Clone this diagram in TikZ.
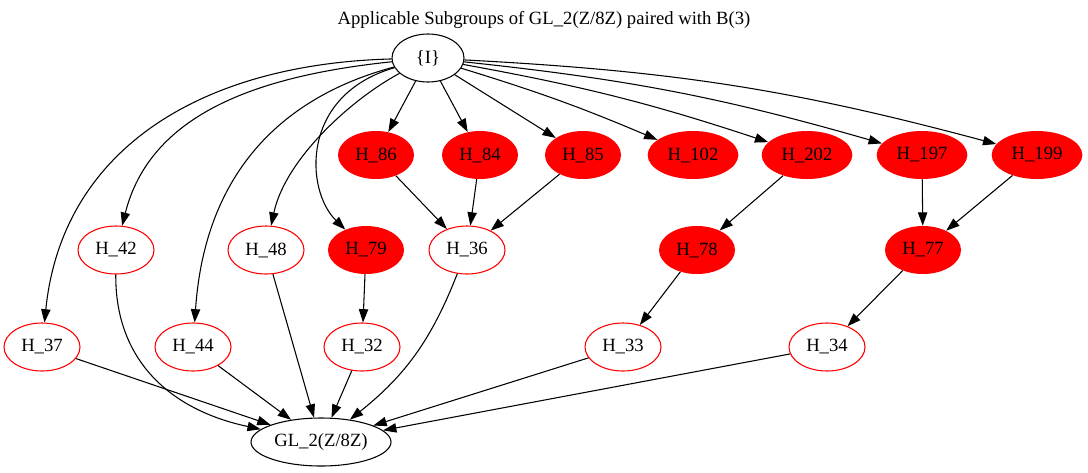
\documentclass[tikz,border=0pt]{standalone}
\usepackage{fontspec}
\setmainfont{Liberation Serif}
\usetikzlibrary{shapes.geometric,arrows.meta}
\definecolor{gvred}{RGB}{255,0,0}
\tikzset{
  base/.style={ellipse, inner sep=0pt, minimum height=36pt, font=\fontsize{14}{16}\selectfont, text=black},
  blacknode/.style={base, draw=black, line width=0.8pt},
  wnode/.style={base, draw=gvred, fill=white, line width=0.8pt, minimum width=57pt},
  rnode/.style={base, fill=gvred, minimum width=57pt},
  rwide/.style={base, fill=gvred, minimum width=68pt},
  edge/.style={draw=black, line width=0.8pt, -{Triangle[length=10pt,width=7pt]}},
}
\begin{document}
\begin{tikzpicture}[x=0.75pt,y=-0.75pt]
\useasboundingbox (0,0) rectangle (1088,472);
\node[font=\fontsize{14}{16}\selectfont] (title) at (544,20) {Applicable Subgroups of GL\_2(Z/8Z) paired with B(3)};
\node[blacknode, minimum width=54pt] (I) at (428,58) {\{I\}};
% row 2
\node[rnode] (H86) at (376,155) {H\_86};
\node[rnode] (H84) at (480,155) {H\_84};
\node[rnode] (H85) at (583,155) {H\_85};
\node[rwide] (H102) at (693,155) {H\_102};
\node[rwide] (H202) at (807,155) {H\_202};
\node[rwide] (H197) at (922,155) {H\_197};
\node[rwide] (H199) at (1037,155) {H\_199};
% row 3
\node[wnode] (H42) at (116,250) {H\_42};
\node[wnode] (H48) at (266,250) {H\_48};
\node[rnode] (H79) at (366,250) {H\_79};
\node[wnode] (H36) at (467,250) {H\_36};
\node[rnode] (H78) at (697,250) {H\_78};
\node[rnode] (H77) at (923,250) {H\_77};
% row 4
\node[wnode] (H37) at (42,347) {H\_37};
\node[wnode] (H44) at (193,347) {H\_44};
\node[wnode] (H32) at (362,347) {H\_32};
\node[wnode] (H33) at (623,347) {H\_33};
\node[wnode] (H34) at (827,347) {H\_34};
% bottom
\node[blacknode, minimum width=105pt] (GL) at (321,442) {GL\_2(Z/8Z)};
% edges from I
\draw[edge] (I) .. controls (200,64) and (62,150) .. (H37);
\draw[edge] (I) .. controls (255,76) and (150,115) .. (H42);
\draw[edge] (I) .. controls (285,96) and (205,170) .. (H44);
\draw[edge] (I) .. controls (350,100) and (285,160) .. (H48);
\draw[edge] (I) .. controls (300,95) and (305,190) .. (H79);
\draw[edge] (I) -- (H86);
\draw[edge] (I) -- (H84);
\draw[edge] (I) -- (H85);
\draw[edge] (I) to[bend left=3] (H102);
\draw[edge] (I) to[bend left=4] (H202);
\draw[edge] (I) to[bend left=5] (H197);
\draw[edge] (I) to[bend left=6] (H199);
% middle
\draw[edge] (H86) -- (H36);
\draw[edge] (H84) -- (H36);
\draw[edge] (H85) -- (H36);
\draw[edge] (H202) -- (H78);
\draw[edge] (H197) -- (H77);
\draw[edge] (H199) -- (H77);
\draw[edge] (H79) -- (H32);
\draw[edge] (H78) -- (H33);
\draw[edge] (H77) -- (H34);
% to GL
\draw[edge] (H37) -- (GL);
\draw[edge] (H42) .. controls (115,360) and (170,410) .. (GL);
\draw[edge] (H44) -- (GL);
\draw[edge] (H48) -- (GL);
\draw[edge] (H32) -- (GL);
\draw[edge] (H36) to[bend left=15] (GL);
\draw[edge] (H33) -- (GL);
\draw[edge] (H34) -- (GL);
\end{tikzpicture}
\end{document}
